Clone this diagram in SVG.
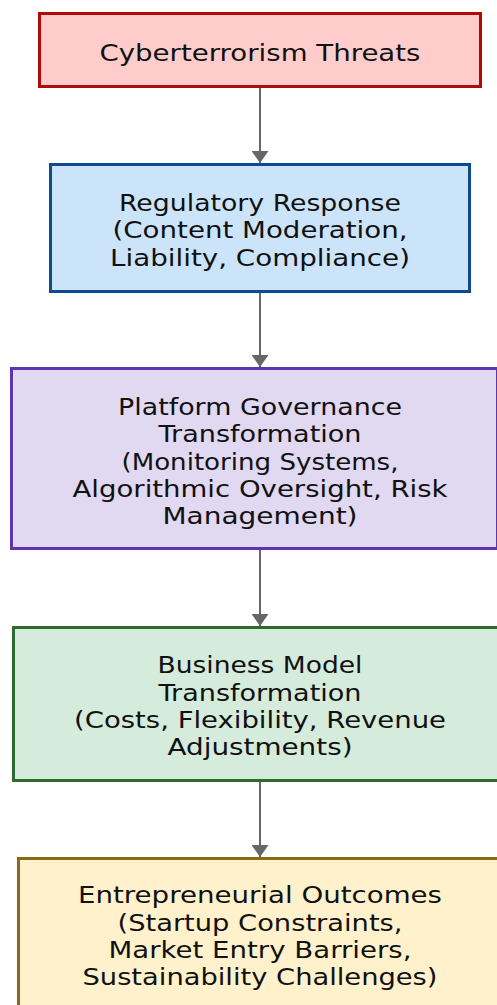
<svg xmlns="http://www.w3.org/2000/svg" width="497" height="1005" viewBox="0 0 497 1005">
  <style>
    .box { stroke-width: 3; }
    .lbl { font-family: "DejaVu Sans", Verdana, sans-serif; font-size: 23px; fill: #111; text-anchor: middle; }
    .edge { stroke: #666; stroke-width: 2; fill: none; marker-end: url(#arrow); }
  </style>
  <defs>
    <marker id="arrow" markerUnits="userSpaceOnUse" markerWidth="12" markerHeight="17" refX="12" refY="8.5" orient="auto">
      <path d="M0,0 L12,8.5 L0,17 Z" fill="#666"/>
    </marker>
  </defs>
  <rect width="497" height="1005" fill="#ffffff"/>

  <g id="connectors">
    <line class="edge" x1="260" y1="88" x2="260" y2="163"/>
    <line class="edge" x1="260" y1="293" x2="260" y2="367"/>
    <line class="edge" x1="260" y1="550" x2="260" y2="626"/>
    <line class="edge" x1="260" y1="782" x2="260" y2="857"/>
  </g>

  <g id="threats">
    <rect class="box" x="39.5" y="13.5" width="441" height="73" fill="#ffcccc" stroke="#b20a0a"/>
    <text class="lbl" x="260" y="61" textLength="321" lengthAdjust="spacingAndGlyphs">Cyberterrorism Threats</text>
  </g>

  <g id="regulatory">
    <rect class="box" x="50.5" y="164.5" width="419" height="127" fill="#cce4fa" stroke="#0f4a8a"/>
    <text class="lbl" x="260" y="211" textLength="282" lengthAdjust="spacingAndGlyphs">Regulatory Response</text>
    <text class="lbl" x="260" y="238.3" textLength="295" lengthAdjust="spacingAndGlyphs">(Content Moderation,</text>
    <text class="lbl" x="260" y="265.6" textLength="300" lengthAdjust="spacingAndGlyphs">Liability, Compliance)</text>
  </g>

  <g id="governance">
    <rect class="box" x="11.5" y="368.5" width="486" height="180" fill="#e1d8f1" stroke="#5e35b1"/>
    <text class="lbl" x="260" y="415" textLength="284" lengthAdjust="spacingAndGlyphs">Platform Governance</text>
    <text class="lbl" x="260" y="442.3" textLength="203" lengthAdjust="spacingAndGlyphs">Transformation</text>
    <text class="lbl" x="260" y="469.6" textLength="277" lengthAdjust="spacingAndGlyphs">(Monitoring Systems,</text>
    <text class="lbl" x="260" y="497" textLength="375" lengthAdjust="spacingAndGlyphs">Algorithmic Oversight, Risk</text>
    <text class="lbl" x="260" y="524.3" textLength="195" lengthAdjust="spacingAndGlyphs">Management)</text>
  </g>

  <g id="business">
    <rect class="box" x="13.5" y="627.5" width="486" height="153" fill="#d5ebdb" stroke="#2e6b30"/>
    <text class="lbl" x="260" y="673.3" textLength="205" lengthAdjust="spacingAndGlyphs">Business Model</text>
    <text class="lbl" x="260" y="700.6" textLength="203" lengthAdjust="spacingAndGlyphs">Transformation</text>
    <text class="lbl" x="260" y="728" textLength="372" lengthAdjust="spacingAndGlyphs">(Costs, Flexibility, Revenue</text>
    <text class="lbl" x="260" y="755.3" textLength="185" lengthAdjust="spacingAndGlyphs">Adjustments)</text>
  </g>

  <g id="outcomes">
    <rect class="box" x="18.5" y="858.5" width="486" height="160" fill="#fff1cc" stroke="#8b6a14"/>
    <text class="lbl" x="260" y="903.3" textLength="364" lengthAdjust="spacingAndGlyphs">Entrepreneurial Outcomes</text>
    <text class="lbl" x="260" y="930.6" textLength="285" lengthAdjust="spacingAndGlyphs">(Startup Constraints,</text>
    <text class="lbl" x="260" y="958" textLength="303" lengthAdjust="spacingAndGlyphs">Market Entry Barriers,</text>
    <text class="lbl" x="260" y="985.3" textLength="355" lengthAdjust="spacingAndGlyphs">Sustainability Challenges)</text>
  </g>
</svg>
